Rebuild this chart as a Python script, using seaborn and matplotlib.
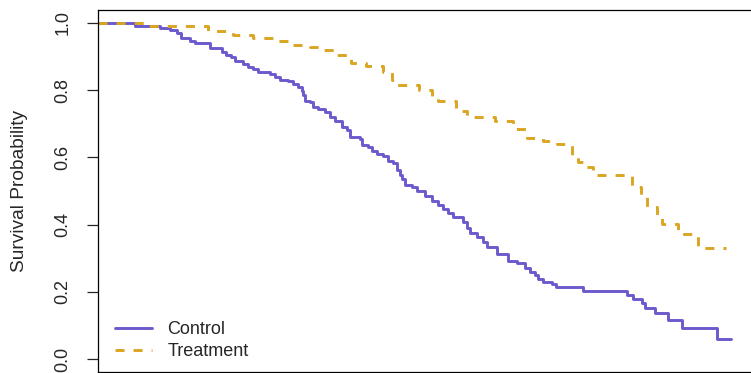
# Kaplan-Meier style survival curves, control vs treatment

import numpy as np
import pandas as pd
import matplotlib
matplotlib.use("Agg")
import matplotlib.pyplot as plt
import seaborn as sns


# step times (days) and survival after each step
control_time = [0, 74, 124, 144, 158, 166, 184, 194, 224, 248, 256, 266, 274, 290, 300,
                310, 320, 344, 354, 364, 380, 390, 400, 408, 410, 414, 424, 430, 440,
                454, 464, 474, 488, 498, 504, 524, 528, 540, 548, 558, 570, 580, 590,
                598, 604, 608, 614, 628, 638, 654, 668, 680, 690, 700, 710, 724, 730,
                738, 744, 758, 770, 778, 798, 820, 838, 854, 864, 874, 880, 890, 908,
                916, 970, 1058, 1070, 1088, 1094, 1114, 1140, 1168, 1238, 1266]
control_surv = [1.0, 0.991, 0.984, 0.979, 0.969, 0.956, 0.946, 0.940, 0.925, 0.915, 0.906,
                0.900, 0.887, 0.877, 0.870, 0.863, 0.855, 0.848, 0.838, 0.830, 0.826,
                0.818, 0.810, 0.798, 0.785, 0.769, 0.764, 0.750, 0.744, 0.734, 0.721,
                0.708, 0.691, 0.682, 0.662, 0.654, 0.637, 0.630, 0.620, 0.610, 0.604,
                0.590, 0.582, 0.562, 0.548, 0.535, 0.518, 0.513, 0.501, 0.485, 0.471,
                0.458, 0.446, 0.435, 0.423, 0.421, 0.409, 0.389, 0.374, 0.362, 0.349,
                0.334, 0.313, 0.293, 0.285, 0.270, 0.260, 0.250, 0.237, 0.228, 0.222,
                0.214, 0.202, 0.190, 0.178, 0.166, 0.151, 0.136, 0.116, 0.091, 0.060,
                0.060]

treatment_time = [0, 100, 220, 270, 310, 360, 384, 424, 450, 474, 506, 536, 570, 588, 596,
                  642, 668, 680, 716, 738, 794, 830, 858, 890, 918, 948, 960, 974, 990,
                  1068, 1086, 1098, 1118, 1128, 1160, 1200, 1256]
treatment_surv = [1.0, 0.991, 0.976, 0.964, 0.954, 0.946, 0.935, 0.929, 0.920, 0.905, 0.882,
                  0.872, 0.855, 0.830, 0.815, 0.800, 0.778, 0.768, 0.738, 0.720, 0.708,
                  0.685, 0.658, 0.650, 0.640, 0.600, 0.587, 0.570, 0.548, 0.512, 0.494,
                  0.451, 0.420, 0.401, 0.372, 0.331, 0.331]

groups = ["Control", "Treatment"]
colors = {"Control": "#6A5ACD", "Treatment": "#DAA520"}


def build_frame() -> pd.DataFrame:
    ctrl = pd.DataFrame({"time": control_time, "surv": control_surv, "group": "Control"})
    trt = pd.DataFrame({"time": treatment_time, "surv": treatment_surv, "group": "Treatment"})
    return pd.concat([ctrl, trt], ignore_index=True)


def main():
    df = build_frame()

    sns.set_style("white")
    plt.rcParams["font.family"] = ["Liberation Sans", "DejaVu Sans"]

    fig = plt.figure(figsize=(7.51, 3.73), dpi=100)
    ax = fig.add_axes([98 / 751, 0.6 / 373, 1 - 98 / 751, (372.4 - 9.5) / 373])

    sns.lineplot(data=df, x="time", y="surv", hue="group", style="group",
                 hue_order=groups, style_order=groups, palette=colors,
                 dashes={"Control": "", "Treatment": (3.1, 3.1)},
                 estimator=None, sort=False, drawstyle="steps-post",
                 linewidth=2.1, ax=ax)

    ax.set_xlim(0, 2 * (751 - 98))
    ax.set_ylim(-0.04, 1.04)
    ax.set_xticks([])
    ax.set_yticks(np.arange(0, 1.01, 0.2))
    ax.set_yticklabels([f"{v:.1f}" for v in np.arange(0, 1.01, 0.2)])
    ax.tick_params(axis="y", direction="out", length=8, width=0.9, pad=11,
                   labelsize=13, labelrotation=90, left=True)
    for lab in ax.get_yticklabels():
        lab.set_va("center")

    for side in ["left", "top", "bottom"]:
        ax.spines[side].set_color("black")
        ax.spines[side].set_linewidth(0.9)
    ax.spines["right"].set_visible(False)

    ax.set_xlabel("")
    ax.set_ylabel("Survival Probability", fontsize=13.8)
    ax.yaxis.set_label_coords((28 - 98) / 653, 0.5)

    handles, labels = ax.get_legend_handles_labels()
    ax.legend(handles, labels, loc="lower left", frameon=False, fontsize=13,
              handlelength=2.05, handletextpad=0.85, labelspacing=0.28,
              borderpad=0, borderaxespad=0,
              bbox_to_anchor=(115 / 751, (373 - 360) / 373),
              bbox_transform=fig.transFigure)

    fig.savefig("out.png", dpi=100)


if __name__ == "__main__":
    main()
